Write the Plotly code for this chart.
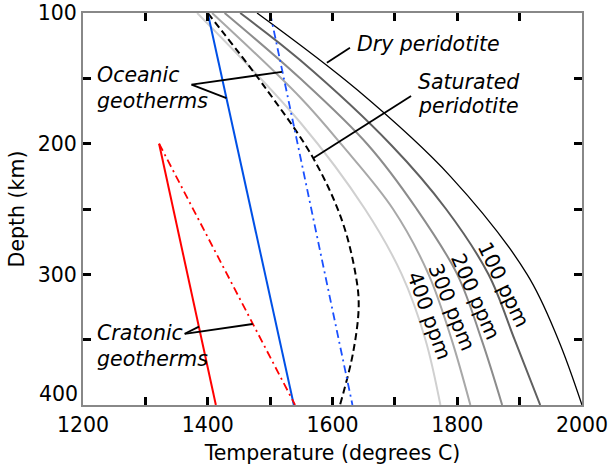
import plotly.graph_objects as go

# ---- data (depth in km, temperature in degrees C) ----
dry_depth = [100, 159, 225, 300, 350, 400]
dry_temp = [1479, 1640, 1789, 1912, 1962, 2000]

ppm100_depth = [100, 136, 201, 250, 300, 350, 400]
ppm100_temp = [1452, 1548, 1694, 1782, 1850, 1892, 1933]

ppm200_depth = [100, 150, 201, 250, 300, 350, 400]
ppm200_temp = [1427, 1548, 1657, 1735, 1800, 1839, 1872]

ppm300_depth = [100, 164.5, 201, 250, 300, 350, 400]
ppm300_temp = [1407, 1548, 1615, 1697, 1754, 1791, 1821]

ppm400_depth = [100, 183.6, 250, 300, 350, 400]
ppm400_temp = [1383, 1548, 1652, 1711, 1749, 1773]

sat_depth = [100, 159, 211, 258.5, 300, 324, 360, 400]
sat_temp = [1400, 1495, 1569, 1615, 1637, 1642, 1633, 1612]

ocean_solid_depth = [100, 400]
ocean_solid_temp = [1400, 1538]
ocean_dd_depth = [100, 400]
ocean_dd_temp = [1500, 1632]

craton_solid_depth = [200, 400]
craton_solid_temp = [1322, 1413]
craton_dd_depth = [200, 400]
craton_dd_temp = [1322, 1540]

x_ticks = [1200, 1400, 1600, 1800, 2000]
y_ticks = [100, 200, 300, 400]
y_ticktext = ["100", "200", "300", ""]   # "400" drawn separately, lifted as in the original
y_end_label = ("400", 400, 11)

FONT = "DejaVu Sans"
FS = 20.5

fig = go.Figure()

def add(x, y, color, width, dash="solid", shape="spline"):
    fig.add_trace(go.Scatter(x=x, y=y, mode="lines",
                             line=dict(color=color, width=width, dash=dash,
                                       shape=shape, smoothing=1.0),
                             showlegend=False, hoverinfo="skip"))

add(ppm400_temp, ppm400_depth, "#d0d0d0", 2)
add(ppm300_temp, ppm300_depth, "#a8a8a8", 2)
add(ppm200_temp, ppm200_depth, "#8c8c8c", 2)
add(ppm100_temp, ppm100_depth, "#606060", 2)
add(dry_temp, dry_depth, "#000000", 1.3)
add(sat_temp, sat_depth, "#000000", 2, dash="7px,4px")
add(ocean_solid_temp, ocean_solid_depth, "#0050e6", 2, shape="linear")
add(ocean_dd_temp, ocean_dd_depth, "#1a50ff", 1.8, dash="8px,4px,2px,4px", shape="linear")
add(craton_solid_temp, craton_solid_depth, "#ff0000", 2, shape="linear")
add(craton_dd_temp, craton_dd_depth, "#ff0000", 1.8, dash="8px,4px,2px,4px", shape="linear")

# ---- annotation pointer lines (data coordinates) ----
pointers = [
    ((1374, 154.8), (1519, 145.0)),
    ((1374, 154.8), (1430, 165.2)),
    ((1628, 126.5), (1591, 138.0)),
    ((1726, 163.5), (1569.6, 211.0)),
    ((1363, 345.5), (1386, 340.0)),
    ((1363, 345.5), (1472, 338.0)),
]
for (x0, y0), (x1, y1) in pointers:
    fig.add_shape(type="line", x0=x0, y0=y0, x1=x1, y1=y1,
                  xref="x", yref="y", line=dict(color="black", width=1.8))

texts = [
    ("Oceanic", 1219, 147.6),
    ("geotherms", 1219, 167.3),
    ("Dry peridotite", 1636, 123.7),
    ("Saturated", 1734, 152.8),
    ("peridotite", 1734, 171.0),
    ("Cratonic", 1219, 345.0),
    ("geotherms", 1219, 364.6),
]
for t, x, y in texts:
    fig.add_annotation(x=x, y=y, text="<i>" + t + "</i>", showarrow=False,
                       xanchor="left", yanchor="middle",
                       font=dict(family=FONT, size=FS, color="black"))

ppm_labels = [
    ("100 ppm", 1874, 308.5, 64),
    ("200 ppm", 1830, 317.0, 66),
    ("300 ppm", 1791, 325.0, 68),
    ("400 ppm", 1755, 332.0, 70),
]
for t, x, y, ang in ppm_labels:
    fig.add_annotation(x=x, y=y, text=t, showarrow=False, textangle=ang,
                       xanchor="center", yanchor="middle",
                       font=dict(family=FONT, size=FS, color="black"))

lbl, yval, ysh = y_end_label
fig.add_annotation(x=0, xref="paper", y=yval, yref="y", text=lbl,
                   showarrow=False, xanchor="right", yanchor="middle",
                   xshift=-3, yshift=ysh,
                   font=dict(family=FONT, size=FS, color="black"))

axis_common = dict(
    showline=True, linecolor="#888888", linewidth=2, mirror="ticks",
    ticks="inside", ticklen=8, tickwidth=2.5, tickcolor="black",
    showgrid=False, zeroline=False, automargin=False,
    tickfont=dict(family=FONT, size=FS, color="black"),
)

fig.update_xaxes(range=[1200, 2000], tickvals=x_ticks,
                 minor=dict(dtick=100, ticks="inside", ticklen=8, tickwidth=2.5,
                            tickcolor="black", showgrid=False),
                 title=dict(text="Temperature (degrees C)",
                            font=dict(family=FONT, size=FS, color="black"),
                            standoff=10),
                 **axis_common)
fig.update_yaxes(range=[400, 100], tickvals=y_ticks, ticktext=y_ticktext,
                 minor=dict(dtick=50, ticks="inside", ticklen=8, tickwidth=2.5,
                            tickcolor="black", showgrid=False),
                 title=dict(text="Depth (km)",
                            font=dict(family=FONT, size=FS, color="black"),
                            standoff=8),
                 **axis_common)

fig.update_layout(
    width=610, height=472,
    margin=dict(l=83, r=28, t=13, b=67),
    paper_bgcolor="white", plot_bgcolor="white",
    font=dict(family=FONT, size=FS, color="black"),
)

fig.write_html("out.html")
